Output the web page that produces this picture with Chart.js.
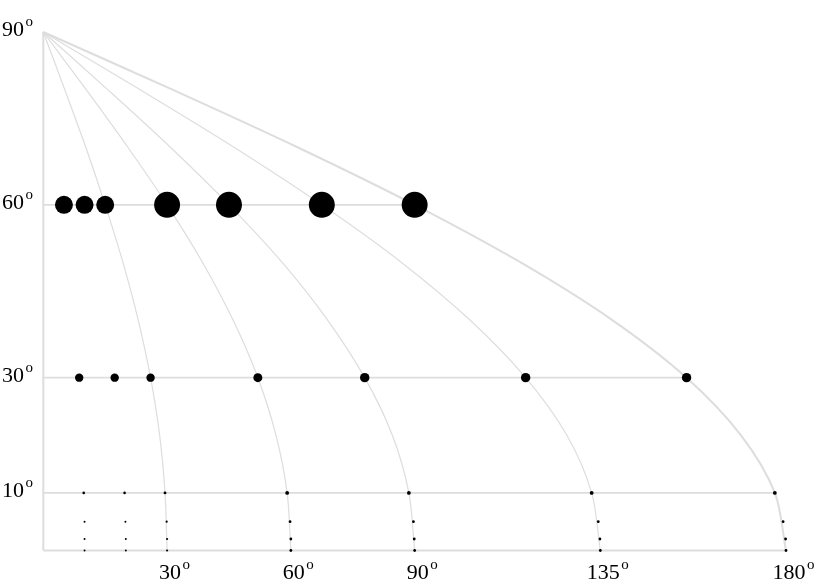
<!DOCTYPE html>
<html>
<head>
<meta charset="utf-8">
<script src="https://cdn.jsdelivr.net/npm/chart.js@4"></script>
<style>
  html, body { margin: 0; padding: 0; background: #fff; }
  #grafico { display: block; }
</style>
</head>
<body>
<canvas id="grafico" width="830" height="582"></canvas>
<script>
const latitudes = [0, 10, 20, 30, 40, 50, 60, 70, 80, 90];
const meridian30 = [30, 29.5, 28.2, 26.0, 23.0, 19.3, 15.0, 10.3, 5.2, 0];
const meridian60 = [60, 59.1, 56.4, 52.0, 46.0, 38.6, 30.0, 20.5, 10.4, 0];
const meridian90 = [90, 88.6, 84.6, 77.9, 68.9, 57.9, 45.0, 30.8, 15.6, 0];
const meridian135 = [135, 132.9, 126.9, 116.9, 103.4, 86.8, 67.5, 46.2, 23.4, 0];
const meridian180 = [180, 177.3, 169.1, 155.9, 137.9, 115.7, 90.0, 61.6, 31.3, 0];

// parallels: [latitude, x at the edge]
const parallels = [[10, 177.3], [30, 155.9], [60, 90]];

// dot rows (x positions at each latitude) and dot radii
const row60 = [5, 10, 15, 30, 45, 67.5, 90];
const row30 = [8.7, 17.3, 26, 52, 77.9, 116.9, 155.9];
const row10 = [9.8, 19.7, 29.5, 59.1, 88.6, 132.9, 177.3];
const row5 = [10, 19.9, 29.9, 59.8, 89.7, 134.5, 179.3];
const row2 = [10, 20, 30, 60, 89.9, 134.9, 179.9];
const row0 = [10, 20, 30, 60, 90, 135, 180];
const radius60 = [9, 9, 9, 13, 13, 13, 13];
const radius30 = [4.2, 4.2, 4.2, 4.5, 4.7, 4.7, 4.7];
const radius10 = [1.3, 1.3, 1.4, 1.9, 1.9, 1.9, 1.9];
const radiusLow = [1, 1, 1.1, 1.4, 1.4, 1.4, 1.4];

const latTicks = [90, 60, 30, 10];
const lonTicks = [30, 60, 90, 135, 180];

const grey = 'rgb(221,221,221)';
const fuente = '"Liberation Serif", "Times New Roman", serif';

function curva(xs, ancho) {
  return {
    type: 'line',
    data: xs.map((x, i) => ({ x: x, y: latitudes[i] })),
    borderColor: grey,
    borderWidth: ancho,
    pointRadius: 0,
    tension: 0.3,
    fill: false,
    clip: false,
    order: 2
  };
}

function recta(puntos, ancho) {
  return {
    type: 'line',
    data: puntos,
    borderColor: grey,
    borderWidth: ancho,
    pointRadius: 0,
    tension: 0,
    fill: false,
    clip: false,
    order: 2
  };
}

function fila(xs, lat, radios) {
  return {
    type: 'scatter',
    data: xs.map(x => ({ x: x, y: lat })),
    pointRadius: radios,
    pointBackgroundColor: '#000',
    pointBorderWidth: 0,
    pointHoverRadius: radios,
    clip: false,
    order: 0
  };
}

const datasets = [
  fila(row60, 60, radius60),
  fila(row30, 30, radius30),
  fila(row10, 10, radius10),
  fila(row5, 5, radiusLow),
  fila(row2, 2, radiusLow),
  fila(row0, 0, radiusLow),
  curva(meridian30, 1.2),
  curva(meridian60, 1.2),
  curva(meridian90, 1.2),
  curva(meridian135, 1.2),
  curva(meridian180, 2),
  recta([{ x: 0, y: 0 }, { x: 180, y: 0 }], 2),
  recta([{ x: 0, y: 0 }, { x: 0, y: 90 }], 2)
];
parallels.forEach(p => datasets.push(recta([{ x: 0, y: p[0] }, { x: p[1], y: p[0] }], 1.6)));

// tick labels with a raised "o" as degree sign
const etiquetas = {
  id: 'etiquetas',
  afterDraw(chart) {
    const ctx = chart.ctx;
    const sx = chart.scales.x, sy = chart.scales.y;
    ctx.save();
    ctx.fillStyle = '#000';
    ctx.textBaseline = 'alphabetic';
    ctx.textAlign = 'left';
    const escribir = (txt, x, base) => {
      ctx.font = '22px ' + fuente;
      ctx.fillText(txt, x, base);
      const w = ctx.measureText(txt).width;
      ctx.font = '15px ' + fuente;
      ctx.fillText('o', x + w + 1.5, base - 10);
    };
    latTicks.forEach(v => {
      escribir(String(v), 2, sy.getPixelForValue(v) + 4);
    });
    lonTicks.forEach(v => {
      ctx.font = '22px ' + fuente;
      const w = ctx.measureText(String(v)).width;
      escribir(String(v), sx.getPixelForValue(v) + 3 - w / 2, 579);
    });
    ctx.restore();
  }
};

new Chart(document.getElementById('grafico').getContext('2d'), {
  type: 'scatter',
  data: { datasets: datasets },
  options: {
    responsive: false,
    animation: false,
    layout: { padding: { left: 43.3, right: 44, top: 32, bottom: 31.5 } },
    plugins: { legend: { display: false }, tooltip: { enabled: false } },
    scales: {
      x: { type: 'linear', min: 0, max: 180, display: false },
      y: { type: 'linear', min: 0, max: 90, display: false }
    }
  },
  plugins: [etiquetas]
});
</script>
</body>
</html>
